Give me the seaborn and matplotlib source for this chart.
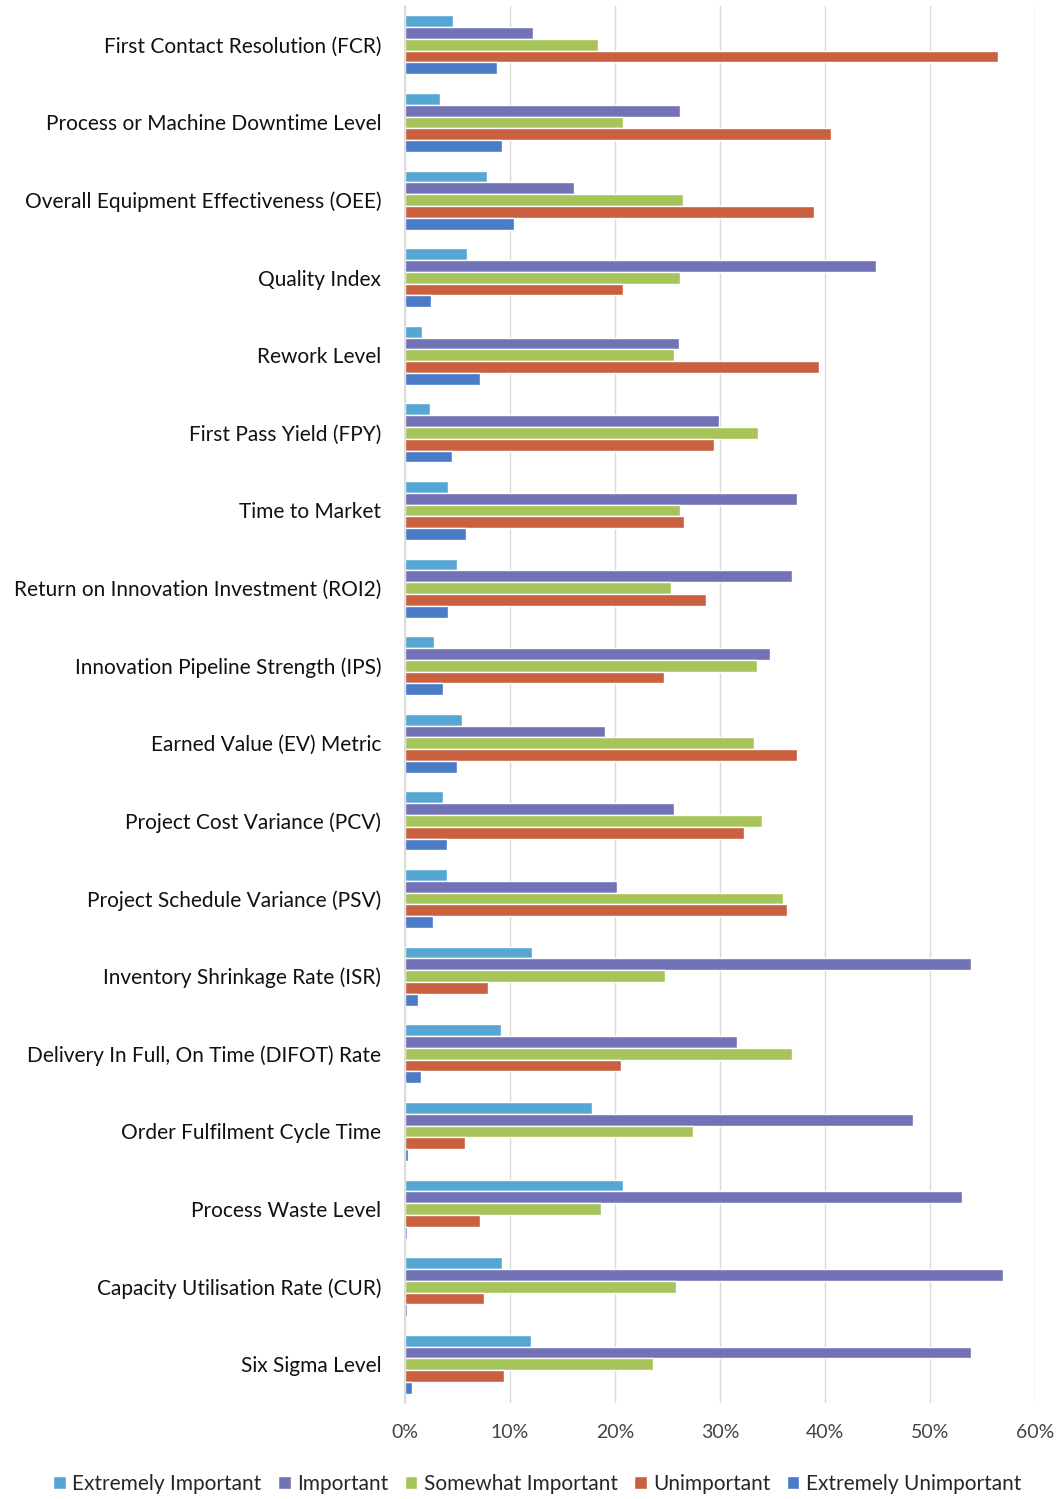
import matplotlib
matplotlib.use("Agg")
import matplotlib.pyplot as plt
import matplotlib.ticker as mtick
import seaborn as sns
import pandas as pd

categories = [
    "First Contact Resolution (FCR)",
    "Process or Machine Downtime Level",
    "Overall Equipment Effectiveness (OEE)",
    "Quality Index",
    "Rework Level",
    "First Pass Yield (FPY)",
    "Time to Market",
    "Return on Innovation Investment (ROI2)",
    "Innovation Pipeline Strength (IPS)",
    "Earned Value (EV) Metric",
    "Project Cost Variance (PCV)",
    "Project Schedule Variance (PSV)",
    "Inventory Shrinkage Rate (ISR)",
    "Delivery In Full, On Time (DIFOT) Rate",
    "Order Fulfilment Cycle Time",
    "Process Waste Level",
    "Capacity Utilisation Rate (CUR)",
    "Six Sigma Level",
]

series_names = ["Extremely Important", "Important", "Somewhat Important",
                "Unimportant", "Extremely Unimportant"]

extremely_important = [4.6, 3.3, 7.8, 5.9, 1.6, 2.4, 4.1, 5.0, 2.8, 5.4, 3.6, 4.0,
                       12.1, 9.1, 17.8, 20.8, 9.2, 12.0]
important = [12.2, 26.2, 16.1, 44.9, 26.1, 29.9, 37.3, 36.9, 34.8, 19.1, 25.6, 20.2,
             53.9, 31.6, 48.4, 53.1, 57.0, 53.9]
somewhat_important = [18.4, 20.8, 26.5, 26.2, 25.6, 33.6, 26.2, 25.3, 33.5, 33.2, 34.0, 36.0,
                      24.8, 36.9, 27.4, 18.7, 25.8, 23.6]
unimportant = [56.5, 40.6, 39.0, 20.8, 39.4, 29.4, 26.6, 28.7, 24.7, 37.3, 32.3, 36.4,
               7.9, 20.6, 5.7, 7.1, 7.5, 9.4]
extremely_unimportant = [8.8, 9.2, 10.4, 2.5, 7.1, 4.5, 5.8, 4.1, 3.6, 5.0, 4.0, 2.7,
                         1.2, 1.5, 0.3, 0.2, 0.2, 0.7]

x_ticks = [0, 10, 20, 30, 40, 50, 60]

colors = ["#55A6D2", "#7272B6", "#A6C45A", "#C9603F", "#4A7BC6"]

series_values = [extremely_important, important, somewhat_important,
                 unimportant, extremely_unimportant]
rows = []
for name, vals in zip(series_names, series_values):
    for cat, v in zip(categories, vals):
        rows.append({"Category": cat, "Series": name, "Value": v})
df = pd.DataFrame(rows)

sns.set_theme(style="white")
plt.rcParams["font.family"] = ["Lato", "DejaVu Sans"]

fig = plt.figure(figsize=(10.56, 14.99), dpi=100)
ax = fig.add_axes([0.3835, 0.064, 0.5965, 0.932])

sns.barplot(data=df, y="Category", x="Value", hue="Series",
            order=categories, hue_order=series_names, palette=colors,
            orient="h", width=0.76, dodge=True, saturation=1, ax=ax,
            errorbar=None)

ax.set_xlim(0, 60)
ax.set_xticks(x_ticks)
ax.xaxis.set_major_formatter(mtick.FuncFormatter(lambda v, p: f"{int(v)}%"))
ax.set_xlabel("")
ax.set_ylabel("")
ax.grid(axis="x", color="#d9d9d9", linewidth=1)
ax.set_axisbelow(True)
for s in ["top", "right", "bottom"]:
    ax.spines[s].set_visible(False)
ax.spines["left"].set_color("#d9d9d9")
ax.tick_params(axis="y", labelsize=15, length=0, pad=17, colors="#111111")
ax.tick_params(axis="x", labelsize=14, length=0, pad=15, colors="#444444")
ax.set_ylim(len(categories) - 0.5, -0.5)

handles, labels = ax.get_legend_handles_labels()
ax.legend(handles, labels, loc="center", bbox_to_anchor=(0.21, -0.058),
          ncol=5, frameon=False, fontsize=15, handlelength=0.6, handleheight=0.6,
          handletextpad=0.3, columnspacing=0.8, borderaxespad=0)

fig.savefig("out.png", dpi=100, facecolor="white")
